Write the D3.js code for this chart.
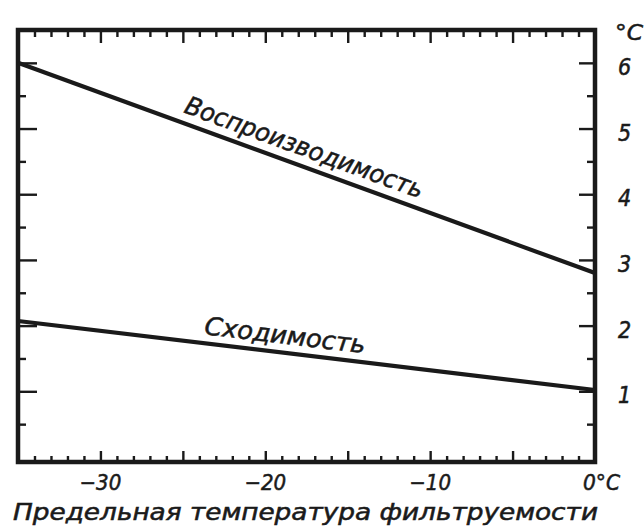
<!DOCTYPE html>
<html>
<head>
<meta charset="utf-8">
<script src="https://cdn.jsdelivr.net/npm/d3@7"></script>
<style>
  html, body { margin: 0; padding: 0; background: #fff; }
  svg { display: block; }
  text { font-family: 'DejaVu Sans Condensed', 'DejaVu Sans', sans-serif; font-style: italic; fill: #1a1a1a; stroke: #1a1a1a; stroke-width: 0.5px; }
</style>
</head>
<body>
<svg id="chart" width="644" height="529"></svg>
<script>
// ---- data ----
const temps = [-35, 0];                 // °C, filterability limit temperature
const reproducibility = [6.0, 2.8];     // Воспроизводимость, °C
const repeatability = [2.07, 1.02];     // Сходимость, °C
const xLabelValues = [-30, -20, -10];
const xLabelTexts = ["\u221230", "\u221220", "\u221210"];
const yLabelValues = [1, 2, 3, 4, 5, 6];
const yLabelTexts = ["1", "2", "3", "4", "5", "6"];
const xTitle = "Предельная температура фильтруемости";
const seriesNames = ["Воспроизводимость", "Сходимость"];

(function () {
const svg = d3.select("#chart");
const ink = "#1a1a1a";
const x = d3.scaleLinear().domain([-35, 0]).range([18, 595]);
const y = d3.scaleLinear().domain([0, 6.5]).range([457, 30]);
const pLeft = x(-35), pRight = x(0), pTop = y(6.5), pBottom = 462;

const g = svg.append("g");

function styleAxis(sel) {
  sel.select(".domain").remove();
  sel.selectAll(".tick line").attr("stroke", ink).attr("stroke-width", 2.4);
  sel.selectAll(".tick text").remove();
}

const minorX = d3.range(-34, 0, 1).filter(v => v % 5 !== 0);
const majorX = d3.range(-30, 0, 5);

// bottom ticks
g.append("g").attr("transform", `translate(0,${pBottom})`)
  .call(d3.axisBottom(x).tickValues(minorX).tickSize(-6)).call(styleAxis);
g.append("g").attr("transform", `translate(0,${pBottom})`)
  .call(d3.axisBottom(x).tickValues(majorX).tickSize(-11)).call(styleAxis);
// top ticks
g.append("g").attr("transform", `translate(0,${pTop})`)
  .call(d3.axisTop(x).tickValues(minorX).tickSize(-7)).call(styleAxis);
g.append("g").attr("transform", `translate(0,${pTop})`)
  .call(d3.axisTop(x).tickValues(majorX).tickSize(-13)).call(styleAxis);

const halfY = [0.5, 1.5, 2.5, 3.5, 4.5, 5.5];
// left ticks
g.append("g").attr("transform", `translate(${pLeft},0)`)
  .call(d3.axisLeft(y).tickValues(halfY).tickSize(-8)).call(styleAxis);
g.append("g").attr("transform", `translate(${pLeft},0)`)
  .call(d3.axisLeft(y).tickValues([1, 2, 3, 4, 5, 6]).tickSize(-19)).call(styleAxis);
// right ticks
g.append("g").attr("transform", `translate(${pRight},0)`)
  .call(d3.axisRight(y).tickValues(halfY).tickSize(-8)).call(styleAxis);
const rightAxis = g.append("g").attr("transform", `translate(${pRight},0)`)
  .call(d3.axisRight(y).tickValues(yLabelValues).tickSize(-16).tickPadding(23)
        .tickFormat((d, i) => yLabelTexts[i]));
rightAxis.select(".domain").remove();
rightAxis.selectAll(".tick line").attr("stroke", ink).attr("stroke-width", 2.4);
rightAxis.selectAll(".tick text").attr("font-size", 23).attr("fill", ink)
  .attr("font-family", null).attr("dy", "0.5em");

// frame
g.append("rect").attr("x", pLeft).attr("y", pTop)
  .attr("width", pRight - pLeft).attr("height", pBottom - pTop)
  .attr("fill", "none").attr("stroke", ink).attr("stroke-width", 4.5);

// lines
const line = d3.line().x(d => x(d[0])).y(d => y(d[1]));
[reproducibility, repeatability].forEach(vals => {
  g.append("path").datum(temps.map((t, i) => [t, vals[i]]))
    .attr("d", line).attr("fill", "none").attr("stroke", ink)
    .attr("stroke-width", 4.2).attr("stroke-linecap", "butt");
});

// labels along lines
function lineLabel(vals, tStart, text, len, fs, off) {
  const slope = (y(vals[1]) - y(vals[0])) / (x(temps[1]) - x(temps[0]));
  const ang = Math.atan(slope) * 180 / Math.PI;
  const v = vals[0] + (vals[1] - vals[0]) * (tStart - temps[0]) / (temps[1] - temps[0]);
  g.append("text")
    .attr("transform", `translate(${x(tStart)},${y(v)}) rotate(${ang})`)
    .attr("dy", -off).attr("font-size", fs)
    .attr("textLength", len).attr("lengthAdjust", "spacingAndGlyphs")
    .text(text);
}
lineLabel(reproducibility, -25.2, seriesNames[0], 252, 25, 10);
lineLabel(repeatability, -23.8, seriesNames[1], 162, 25, 9);

// x labels
xLabelValues.forEach((v, i) => {
  g.append("text").attr("x", x(v)).attr("y", 490).attr("text-anchor", "middle")
    .attr("font-size", 22).text(xLabelTexts[i]);
});
g.append("text").attr("x", x(0) - 12).attr("y", 490).attr("font-size", 22)
  .attr("textLength", 37).attr("lengthAdjust", "spacingAndGlyphs").text("0°C");
// y unit
g.append("text").attr("x", 615).attr("y", 40).attr("font-size", 22)
  .attr("textLength", 28).attr("lengthAdjust", "spacingAndGlyphs").text("°C");

// x title
g.append("text").attr("x", 13).attr("y", 520).attr("font-size", 23)
  .attr("textLength", 585).attr("lengthAdjust", "spacingAndGlyphs").text(xTitle);
})();
</script>
</body>
</html>
